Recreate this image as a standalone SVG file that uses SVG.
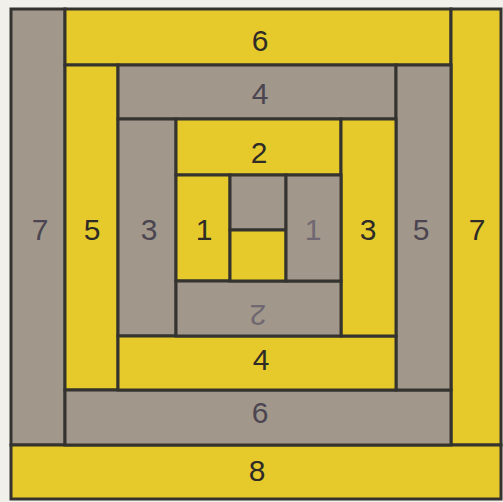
<svg xmlns="http://www.w3.org/2000/svg" width="503" height="502" viewBox="0 0 503 502">
<style>
.y{fill:#e6ca2c;stroke:#35332f;stroke-width:3}
.g{fill:#a1978a;stroke:#35332f;stroke-width:3}
text{font-family:"Liberation Sans",Arial,sans-serif;font-size:30px;text-anchor:middle}
.ty{fill:#2f2b27}
.tg{fill:#4a4550}
.tf{fill:#6f6872}
</style>
<rect width="503" height="502" fill="#f2f0ea"/>
<g id="gray7"><rect class="g" x="11" y="9" width="54" height="436"/><text class="tg" x="40" y="240">7</text></g>
<g id="yellow6"><rect class="y" x="65" y="9" width="386" height="56"/><text class="ty" x="260" y="51">6</text></g>
<g id="yellow7"><rect class="y" x="451" y="9" width="50" height="436"/><text class="ty" x="477" y="240">7</text></g>
<g id="yellow8"><rect class="y" x="11" y="445" width="490" height="54"/><text class="ty" x="257" y="481">8</text></g>
<g id="yellow5"><rect class="y" x="65" y="65" width="53" height="325"/><text class="ty" x="92" y="240">5</text></g>
<g id="gray6"><rect class="g" x="65" y="390" width="386" height="55"/><text class="tg" x="260" y="423">6</text></g>
<g id="gray4"><rect class="g" x="118" y="65" width="278" height="54"/><text class="tg" x="260" y="104">4</text></g>
<g id="gray5"><rect class="g" x="396" y="65" width="55" height="325"/><text class="tg" x="421" y="240">5</text></g>
<g id="gray3"><rect class="g" x="118" y="119" width="58" height="217"/><text class="tg" x="149" y="240">3</text></g>
<g id="yellow4"><rect class="y" x="118" y="336" width="278" height="54"/><text class="ty" x="261" y="370">4</text></g>
<g id="yellow2"><rect class="y" x="176" y="119" width="165" height="56"/><text class="ty" x="259" y="163">2</text></g>
<g id="yellow3"><rect class="y" x="341" y="119" width="55" height="217"/><text class="ty" x="368" y="240">3</text></g>
<g id="yellow1"><rect class="y" x="176" y="175" width="54" height="106"/><text class="ty" x="204" y="240">1</text></g>
<g id="gray2"><rect class="g" x="176" y="281" width="165" height="55"/><text class="tf" x="258" y="305" transform="rotate(180 258 305)">2</text></g>
<g id="centerGray"><rect class="g" x="230" y="175" width="56" height="55"/></g>
<g id="centerYellow"><rect class="y" x="230" y="230" width="56" height="51"/></g>
<g id="gray1"><rect class="g" x="286" y="175" width="55" height="106"/><text class="tf" x="313" y="240">1</text></g>
<g id="connectors"></g>
</svg>
